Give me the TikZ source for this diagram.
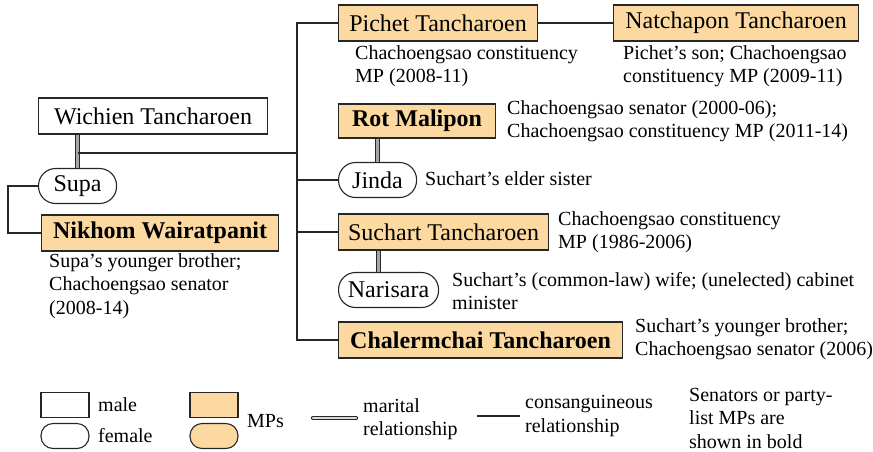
\documentclass[tikz,border=0pt]{standalone}
\usepackage{fontspec}
\setmainfont{Liberation Serif}
\usetikzlibrary{positioning}
\definecolor{mpfill}{RGB}{252,217,160}

\tikzset{
  person/.style={draw=black!85, line width=1.1pt, minimum height=36pt, inner sep=0pt, anchor=west, font=\fontsize{24pt}{26pt}\selectfont},
  female/.style={person, rounded corners=17pt},
  mp/.style={fill=mpfill},
  note/.style={inner sep=0pt, anchor=west, align=left, font=\fontsize{20pt}{23.5pt}\selectfont},
  keybox/.style={draw=black!85, line width=1.1pt, minimum width=48pt, minimum height=25pt, inner sep=0pt},
  wed/.style={draw=black!85, line width=1pt, double=black!35, double distance=2.2pt},
  kin/.style={draw=black!85, line width=1.2pt},
}

\begin{document}
\begin{tikzpicture}[x=1pt, y=-1pt]
	\useasboundingbox (0,0) rectangle (873,451);

	% people
	\node [person, minimum width=229pt] (wichien) at (38,116) {Wichien Tancharoen};
	\node [female, minimum width=78pt, minimum height=35pt] (supa) at (38,186) {Supa};
	\node [person, mp, minimum width=237pt] (nikhom) at (41,233) {\textbf{Nikhom Wairatpanit}};
	\node [person, mp, minimum width=199pt] (pichet) at (338,23) {Pichet Tancharoen};
	\node [person, mp, minimum width=245pt] (natchapon) at (613,23) {Natchapon Tancharoen};
	\node [person, mp, minimum width=157pt, minimum height=34pt] (rot) at (338,121) {\textbf{Rot Malipon}};
	\node [female, minimum width=78pt, minimum height=35pt] (jinda) at (338,180) {Jinda};
	\node [person, mp, minimum width=210pt] (suchart) at (338,232) {Suchart Tancharoen};
	\node [female, minimum width=100pt, minimum height=35pt] (narisara) at (338,290) {Narisara};
	\node [person, mp, minimum width=284pt] (chalermchai) at (338,340) {\textbf{Chalermchai Tancharoen}};

	% notes
	\node [note] (nikhomnote) at (49,286) {Supa's younger brother;\\Chachoengsao senator\\(2008-14)};
	\node [note] (pichetnote) at (355,66) {Chachoengsao constituency\\MP (2008-11)};
	\node [note] (natchaponnote) at (623,66) {Pichet's son; Chachoengsao\\constituency MP (2009-11)};
	\node [note] (rotnote) at (507,121) {Chachoengsao senator (2000-06);\\Chachoengsao constituency MP (2011-14)};
	\node [note] (jindanote) at (425,179) {Suchart's elder sister};
	\node [note] (suchartnote) at (558,232) {Chachoengsao constituency\\MP (1986-2006)};
	\node [note] (narisaranote) at (452,291) {Suchart's (common-law) wife; (unelected) cabinet\\minister};
	\node [note] (chalermchainote) at (635,339) {Suchart's younger brother;\\Chachoengsao senator (2006)};

	% links
	\coordinate (trunk) at (297,153);
	\draw [wed] (wichien.south -| supa.north) -- (supa.north);
	\draw [kin] (supa.north |- trunk) -- (trunk);
	\draw [kin] (pichet.west) -- (pichet.west -| trunk) -- (chalermchai.west -| trunk) -- (chalermchai.west);
	\draw [kin] (jinda.west -| trunk) -- (jinda.west);
	\draw [kin] (suchart.west -| trunk) -- (suchart.west);
	\draw [kin] (pichet.east) -- (natchapon.west);
	\draw [kin] (supa.west) -- ++(-30,0) |- (nikhom.west);
	\draw [wed] (jinda.north |- rot.south) -- (jinda.north);
	\draw [wed] ([xshift=-10pt]narisara.north |- suchart.south) -- ([xshift=-10pt]narisara.north);

	% key
	\node [keybox] (keymale) at (65,405) {};
	\node [keybox, rounded corners=12pt] (keyfemale) at (65,436) {};
	\node [keybox, fill=mpfill] (keympmale) at (214,405) {};
	\node [keybox, fill=mpfill, rounded corners=12pt] (keympfemale) at (214,436) {};
	\node [note] (malelabel) at (98,405) {male};
	\node [note] (femalelabel) at (98,436) {female};
	\node [note] (mplabel) at (247,421) {MPs};
	\coordinate (wedkeya) at (313,418);
	\coordinate (wedkeyb) at (356,418);
	\draw [wed, double=black!15, line cap=round] (wedkeya) -- (wedkeyb);
	\node [note] (wedlabel) at (363,419) {marital\\relationship};
	\coordinate (kinkeya) at (477,416);
	\coordinate (kinkeyb) at (520,416);
	\draw [kin] (kinkeya) -- (kinkeyb);
	\node [note] (kinlabel) at (525,416) {consanguineous\\relationship};
	\node [note] (boldlabel) at (689,418) {Senators or party-\\list MPs are\\shown in bold};
\end{tikzpicture}
\end{document}
